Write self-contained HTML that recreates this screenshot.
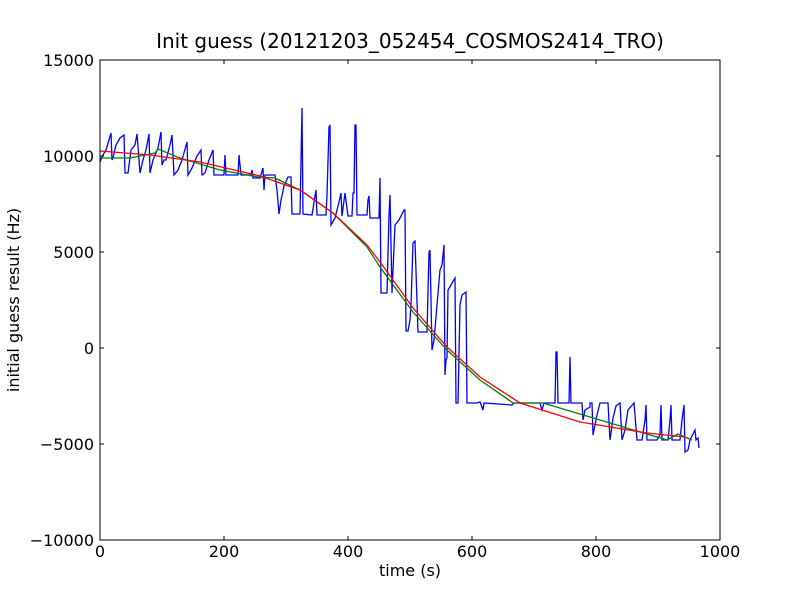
<!DOCTYPE html><html><head><style>body{margin:0;background:#fff}svg{display:block}text{font-family:"DejaVu Sans","Liberation Sans",sans-serif}</style></head><body>
<svg width="800" height="600" xmlns="http://www.w3.org/2000/svg">
<rect width="800" height="600" fill="#fff"/>
<text x="410" y="48" font-size="20" text-anchor="middle">Init guess (20121203_052454_COSMOS2414_TRO)</text>
<g fill="none" stroke-width="1.3">
<polyline stroke="#0000ff" points="100,162 103,155 106,150 111,133 112,160 113,158 116,145 120,138 124,135 125,173 128,173 131,150 135,145 137,134 140,173 143,160 146,150 149,134 150,173 153,160 158,148 161,132 162,165 164,160 166,160 170,145 172,135 174,175 178,170 182,160 187,142 188,175 192,168 197,156 201,150 202,175 205,173 209,160 213,150 214,175 224,175 225,155 226,175 238,175 239,155 241,175 251,175 252,170 253,178 260,178 263,168 264,190 265,175 275,175 277,190 279,214 281,200 283,191 284,186 288,177 291,177 292,214 300,214 302,108 303,214 312,215 315,196 316,190 317,215 326,215 327,195 329,127 330,125 331,225 335,218 339,202 341,193 342,216 345,193 348,216 352,216 353,193 354,193 355,125 356,125 357,215 367,215 368,200 369,196 370,218 379,218 380,178 381,293 387,293 389,215 390,195 392,293 395,225 399,220 404,210 405,210 406,331 408,331 410,320 411,305 413,243 415,241 418,332 427,332 429,252 430,250 432,350 434,340 440,270 442,265 444,245 445,375 446,360 447,358 448,290 451,285 455,278 456,403 458,403 460,305 462,295 466,292 467,403 477,403 480,402 483,410 484,403 512,405 514,403 540,403 542,410 544,403 555,403 556,352 557,352 558,403 569,403 570,357 571,403 582,403 583,420 585,410 590,407 590,403 592,403 593,435 597,415 600,403 608,403 610,440 613,418 616,406 620,403 622,440 625,430 628,410 634,403 637,440 642,440 645,420 646,405 647,440 657,440 660,435 661,405 662,440 668,440 670,420 671,405 672,440 680,440 682,420 684,405 685,452 688,450 690,440 695,430 696,440 698,438 699,448"/>
<polyline stroke="#008000" points="100,158 130,158 155,153 158,149 180,158 220,170 258,177 275,178 300,190 333,213 367,247 380,267 413,312 447,350 480,380 513,403 543,403 600,420 667,440 678,434 692,440"/>
<polyline stroke="#ff0000" points="100,151 150,155 200,162 260,176 300,190 333,213 367,245 380,262 413,308 447,347 480,377 520,403 580,422 647,433 685,437"/>
</g>
<rect x="100" y="60" width="620" height="480" fill="none" stroke="#000"/>
<g stroke="#000">
<path d="M100,540v-4M224,540v-4M348,540v-4M472,540v-4M596,540v-4M720,540v-4M100,60v4M224,60v4M348,60v4M472,60v4M596,60v4M720,60v4"/>
<path d="M100,60h4M100,156h4M100,252h4M100,348h4M100,444h4M100,540h4M720,60h-4M720,156h-4M720,252h-4M720,348h-4M720,444h-4M720,540h-4"/>
</g>
<g font-size="16" text-anchor="middle">
<text x="100" y="557">0</text><text x="224" y="557">200</text><text x="348" y="557">400</text><text x="472" y="557">600</text><text x="596" y="557">800</text><text x="720" y="557">1000</text>
<text x="410" y="576">time (s)</text>
</g>
<g font-size="16" text-anchor="end">
<text x="94" y="66">15000</text><text x="94" y="162">10000</text><text x="94" y="258">5000</text><text x="94" y="354">0</text><text x="94" y="450">−5000</text><text x="94" y="546">−10000</text>
</g>
<text transform="translate(19,300) rotate(-90)" font-size="16" text-anchor="middle">initial guess result (Hz)</text>
</svg></body></html>
